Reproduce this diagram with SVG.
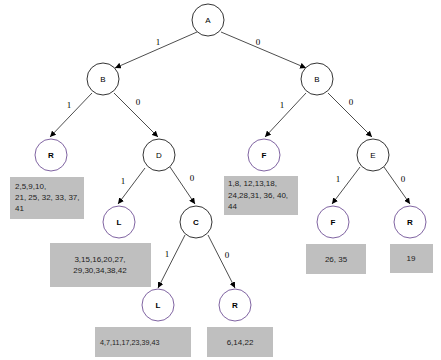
<svg xmlns="http://www.w3.org/2000/svg" width="441" height="360" viewBox="0 0 441 360">
<defs>
<marker id="arr" markerUnits="userSpaceOnUse" markerWidth="7" markerHeight="6" refX="6" refY="3" orient="auto">
<path d="M0,0 L6,3 L0,6 Z" fill="#000"/>
</marker>
<style>
.n{fill:#fff;stroke:#000;stroke-width:0.8}
.p{fill:#fff;stroke:#8064a2;stroke-width:1}
.t{font-family:"Liberation Sans",Arial,sans-serif;font-size:8px;text-anchor:middle;fill:#000}
.b{font-weight:bold}
.e{stroke:#000;stroke-width:0.7;fill:none;marker-end:url(#arr)}
.l{font-family:"Liberation Serif","Times New Roman",serif;font-size:9px;text-anchor:middle;fill:#000}
.box{fill:#bfbfbf}
.bt{font-family:"Liberation Sans",Arial,sans-serif;font-size:8px;fill:#222}
</style>
</defs>
<rect width="441" height="360" fill="#fff"/>
<g id="connectors">
<line class="e" x1="197" y1="32" x2="115" y2="68"/>
<line class="e" x1="221" y1="32" x2="306" y2="68"/>
<line class="e" x1="92" y1="93" x2="50" y2="137"/>
<line class="e" x1="114" y1="93" x2="158" y2="137"/>
<line class="e" x1="306" y1="93" x2="265" y2="137"/>
<line class="e" x1="328" y1="93" x2="372" y2="137"/>
<line class="e" x1="145" y1="168" x2="118" y2="204"/>
<line class="e" x1="170" y1="167" x2="195" y2="204"/>
<line class="e" x1="360" y1="167" x2="332" y2="204"/>
<line class="e" x1="384" y1="167" x2="410" y2="204"/>
<line class="e" x1="185" y1="235" x2="158" y2="288"/>
<line class="e" x1="208" y1="235" x2="235" y2="288"/>
<text class="l" x="158" y="45">1</text>
<text class="l" x="258" y="45">0</text>
<text class="l" x="69" y="108">1</text>
<text class="l" x="138" y="105">0</text>
<text class="l" x="282" y="108">1</text>
<text class="l" x="351" y="105">0</text>
<text class="l" x="123" y="184">1</text>
<text class="l" x="192" y="181">0</text>
<text class="l" x="338" y="182">1</text>
<text class="l" x="403" y="182">0</text>
<text class="l" x="167" y="257">1</text>
<text class="l" x="227" y="258">0</text>
</g>
<g id="nodeA"><circle class="n" cx="208" cy="20" r="16"/><text class="t" x="208" y="23">A</text></g>
<g id="nodeB1"><circle class="n" cx="103" cy="79" r="16"/><text class="t" x="103" y="82">B</text></g>
<g id="nodeB2"><circle class="n" cx="317" cy="79" r="16"/><text class="t" x="317" y="82">B</text></g>
<g id="nodeR1"><circle class="p" cx="51" cy="155" r="16"/><text class="t b" x="51" y="158">R</text></g>
<g id="nodeD"><circle class="n" cx="159" cy="155" r="16"/><text class="t" x="159" y="158">D</text></g>
<g id="nodeF1"><circle class="p" cx="264" cy="155" r="16"/><text class="t b" x="264" y="158">F</text></g>
<g id="nodeE"><circle class="n" cx="373" cy="155" r="16"/><text class="t" x="373" y="158">E</text></g>
<g id="nodeL1"><circle class="p" cx="119" cy="222" r="16"/><text class="t b" x="119" y="225">L</text></g>
<g id="nodeC"><circle class="n" cx="196" cy="222" r="16"/><text class="t b" x="196" y="225">C</text></g>
<g id="nodeF2"><circle class="p" cx="333" cy="222" r="16"/><text class="t b" x="333" y="225">F</text></g>
<g id="nodeR2"><circle class="p" cx="410" cy="222" r="16"/><text class="t b" x="410" y="225">R</text></g>
<g id="nodeL2"><circle class="p" cx="158" cy="305" r="16"/><text class="t b" x="158" y="308">L</text></g>
<g id="nodeR3"><circle class="p" cx="235" cy="305" r="16"/><text class="t b" x="235" y="308">R</text></g>
<g id="boxR1"><rect class="box" x="10" y="177" width="74" height="42"/>
<text class="bt" x="15" y="189">2,5,9,10,</text>
<text class="bt" x="15" y="200">21, 25, 32, 33, 37,</text>
<text class="bt" x="15" y="211">41</text></g>
<g id="boxF1"><rect class="box" x="224" y="176" width="74" height="39"/>
<text class="bt" x="228" y="186">1,8, 12,13,18,</text>
<text class="bt" x="228" y="198">24,28,31,  36, 40,</text>
<text class="bt" x="228" y="209">44</text></g>
<g id="boxL1"><rect class="box" x="50" y="243" width="101" height="44"/>
<text class="bt" x="100" y="262" text-anchor="middle">3,15,16,20,27,</text>
<text class="bt" x="100" y="273" text-anchor="middle">29,30,34,38,42</text></g>
<g id="boxF2"><rect class="box" x="306" y="244" width="60" height="30"/>
<text class="bt" x="336" y="262" text-anchor="middle">26, 35</text></g>
<g id="boxR2"><rect class="box" x="390" y="244" width="43" height="29"/>
<text class="bt" x="411" y="261" text-anchor="middle">19</text></g>
<g id="boxL2"><rect class="box" x="95" y="327" width="96" height="30"/>
<text class="bt" x="100" y="345" style="font-size:7.2px">4,7,11,17,23,39,43</text></g>
<g id="boxR3"><rect class="box" x="207" y="327" width="66" height="30"/>
<text class="bt" x="240" y="345" text-anchor="middle">6,14,22</text></g>
</svg>
